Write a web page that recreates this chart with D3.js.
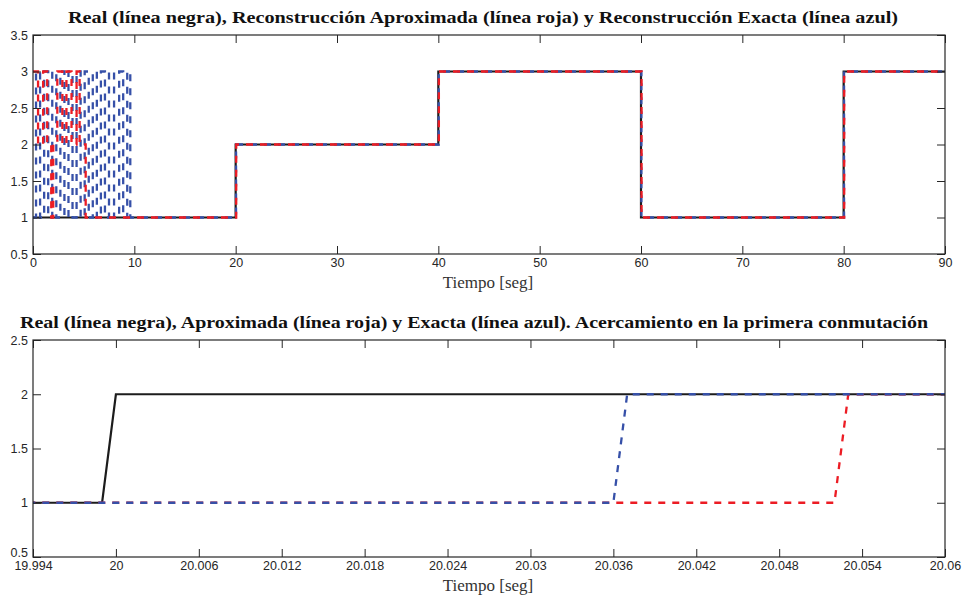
<!DOCTYPE html>
<html>
<head>
<meta charset="utf-8">
<script src="https://cdn.jsdelivr.net/npm/d3@7"></script>
<style>
  html, body { margin: 0; padding: 0; background: #fff; }
  svg { display: block; }
</style>
</head>
<body>
<svg id="chart" width="963" height="596"></svg>
<script>
// Real signal: level held between switching instants (0.001 s ramp at each switch)
const realTimes  = [0, 19.999, 20.000, 39.999, 40.000, 59.999, 60.000, 79.999, 80.000, 90];
const realValues = [1, 1, 2, 2, 3, 3, 1, 1, 3, 3];

// Exact reconstruction (blue): fast switching during the start-up, then tracks the signal 0.036 s late
const exactSwitchTimes  = [0.3, 0.7, 1.1, 1.5, 1.9, 2.3, 2.7, 3.1, 3.5, 3.9, 4.3, 4.7, 5.1, 5.5, 5.9, 6.3, 6.7, 7.1, 7.5, 8.0, 8.5, 8.9, 9.3, 9.6, 10.0];
const exactSwitchValues = [3,   1,   3,   1,   3,   1,   3,   1,   3,   1,   3,   1,   3,   1,   3,   1,   3,   1,   3,   1,   3,   1,   3,   1,   1];
const exactStartValue = 1;
const exactTailTimes  = [19.999, 20.036, 20.037, 40.036, 40.037, 60.036, 60.037, 80.036, 80.037, 90];
const exactTailValues = [1, 1, 2, 2, 3, 3, 1, 1, 3, 3];

// Approximate reconstruction (red): start-up transient, then tracks the signal 0.052 s late
const approxSwitchTimes  = [0.5, 1.0, 1.4, 1.8, 2.0, 2.4, 2.9, 3.3, 3.8, 4.3, 4.6, 5.2, 5.5];
const approxSwitchValues = [2,   3,   2,   1,   2,   3,   2,   3,   2,   3,   2,   1,   1];
const approxStartValue = 3;
const approxTailTimes  = [19.999, 20.052, 20.053, 40.052, 40.053, 60.052, 60.053, 80.052, 80.053, 90];
const approxTailValues = [1, 1, 2, 2, 3, 3, 1, 1, 3, 3];

// Axis ticks
const topXTicks = [0, 10, 20, 30, 40, 50, 60, 70, 80, 90];
const topYTicks = [0.5, 1, 1.5, 2, 2.5, 3, 3.5];
const zoomXTicks = [19.994, 20, 20.006, 20.012, 20.018, 20.024, 20.03, 20.036, 20.042, 20.048, 20.054, 20.06];
const zoomXLabels = ["19.994", "20", "20.006", "20.012", "20.018", "20.024", "20.03", "20.036", "20.042", "20.048", "20.054", "20.06"];
const zoomYTicks = [0.5, 1, 1.5, 2, 2.5];

const titleTop = "Real (línea negra), Reconstrucción Aproximada (línea roja) y Reconstrucción Exacta (línea azul)";
const titleZoom = "Real (línea negra), Aproximada (línea roja) y Exacta (línea azul). Acercamiento en la primera conmutación";
const xLabel = "Tiempo [seg]";

// Build step-shaped point lists (vertical transitions) from switching data
function stepPoints(startValue, switchTimes, switchValues) {
  const pts = [[0, startValue]];
  let cur = startValue;
  switchTimes.forEach((t, i) => {
    pts.push([t, cur]);
    cur = switchValues[i];
    pts.push([t, cur]);
  });
  return pts;
}
const zip = (ts, vs) => ts.map((t, i) => [t, vs[i]]);

const realPts   = zip(realTimes, realValues);
const exactPts  = stepPoints(exactStartValue, exactSwitchTimes, exactSwitchValues).concat(zip(exactTailTimes, exactTailValues));
const approxPts = stepPoints(approxStartValue, approxSwitchTimes, approxSwitchValues).concat(zip(approxTailTimes, approxTailValues));

const svg = d3.select("#chart");
const COLORS = { real: "#1c1c1c", approx: "#ec1c24", exact: "#3650a8" };
const SERIES = {
  real:   { pts: realPts,   color: COLORS.real,   dash: null },
  exact:  { pts: exactPts,  color: COLORS.exact,  dash: "7,7" },
  approx: { pts: approxPts, color: COLORS.approx, dash: "7,7" }
};

function drawPanel(cfg) {
  const { left, right, top, bottom, xDomain, yDomain, xTicks, xLabels, yTicks, title, titleX, titleLen, labelY, id, lowYLabelShift, order } = cfg;
  const x = d3.scaleLinear().domain(xDomain).range([left, right]);
  const y = d3.scaleLinear().domain(yDomain).range([bottom, top]);
  const g = svg.append("g");

  g.append("clipPath").attr("id", id).append("rect")
    .attr("x", left).attr("y", top).attr("width", right - left).attr("height", bottom - top);

  const line = d3.line().x(d => x(d[0])).y(d => y(d[1]));
  const plot = g.append("g").attr("clip-path", `url(#${id})`);
  order.forEach(key => {
    const s = SERIES[key];
    plot.append("path").datum(s.pts).attr("d", line)
      .attr("fill", "none").attr("stroke", s.color)
      .attr("stroke-width", s.dash ? 2.3 : 2.2)
      .attr("stroke-dasharray", s.dash);
  });

  const fmt = (d, i) => xLabels ? xLabels[i] : String(d);
  const tickLen = 8;
  const axisStyle = sel => {
    sel.select(".domain").remove();
    sel.selectAll(".tick line").attr("stroke", "#262626").attr("stroke-width", 1);
    sel.selectAll(".tick text").attr("fill", "#262626")
      .style("font-family", "'Liberation Sans', Arial, sans-serif").style("font-size", "12.5px");
  };
  g.append("g").attr("transform", `translate(0,${bottom})`)
    .call(d3.axisBottom(x).tickValues(xTicks).tickFormat(fmt).tickSizeInner(-tickLen).tickSizeOuter(0).tickPadding(4))
    .call(axisStyle);
  g.append("g").attr("transform", `translate(0,${top})`)
    .call(d3.axisTop(x).tickValues(xTicks).tickFormat("").tickSizeInner(-tickLen).tickSizeOuter(0))
    .call(axisStyle);
  const yAxisG = g.append("g").attr("transform", `translate(${left},0)`)
    .call(d3.axisLeft(y).tickValues(yTicks).tickFormat(d => String(d)).tickSizeInner(-tickLen).tickSizeOuter(0).tickPadding(5))
    .call(axisStyle);
  if (lowYLabelShift) {
    yAxisG.selectAll(".tick text").filter(d => d === yDomain[0]).attr("y", -lowYLabelShift);
  }
  g.append("g").attr("transform", `translate(${right},0)`)
    .call(d3.axisRight(y).tickValues(yTicks).tickFormat("").tickSizeInner(-tickLen).tickSizeOuter(0))
    .call(axisStyle);

  g.append("rect").attr("x", left).attr("y", top).attr("width", right - left).attr("height", bottom - top)
    .attr("fill", "none").attr("stroke", "#262626").attr("stroke-width", 1.2);

  g.append("text").text(title)
    .attr("x", titleX).attr("y", top - 12).attr("text-anchor", "middle")
    .attr("textLength", titleLen).attr("lengthAdjust", "spacingAndGlyphs")
    .style("font-family", "'Liberation Serif', 'DejaVu Serif', serif")
    .style("font-weight", "bold").style("font-size", "16px").attr("fill", "#111");

  g.append("text").text(xLabel)
    .attr("x", (left + right) / 2 - 1).attr("y", labelY).attr("text-anchor", "middle")
    .style("font-family", "'Liberation Serif', 'DejaVu Serif', serif")
    .style("font-size", "17px").attr("fill", "#333");
}

drawPanel({
  id: "clipTop", left: 33, right: 945, top: 35, bottom: 254,
  xDomain: [0, 90], yDomain: [0.5, 3.5], xTicks: topXTicks, xLabels: null, yTicks: topYTicks,
  title: titleTop, titleX: 483, titleLen: 830, labelY: 288, lowYLabelShift: 0,
  order: ["real", "exact", "approx"]
});
drawPanel({
  id: "clipZoom", left: 33, right: 945, top: 340, bottom: 557,
  xDomain: [19.994, 20.06], yDomain: [0.5, 2.5], xTicks: zoomXTicks, xLabels: zoomXLabels, yTicks: zoomYTicks,
  title: titleZoom, titleX: 474, titleLen: 908, labelY: 591, lowYLabelShift: 5,
  order: ["real", "approx", "exact"]
});
</script>
</body>
</html>
